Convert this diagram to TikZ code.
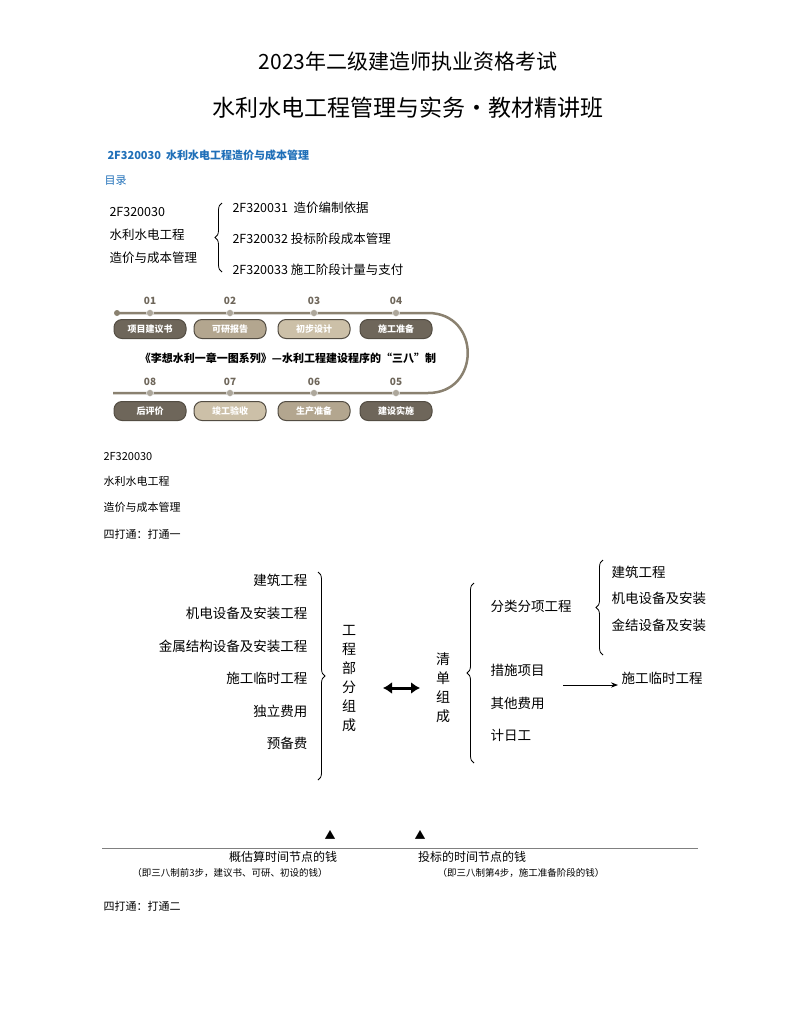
\documentclass[tikz,border=0pt]{standalone}
\usepackage{fontspec}
\setmainfont{Noto Sans CJK SC}
\usepackage{tikz}
\usetikzlibrary{decorations.pathreplacing,arrows.meta}
\definecolor{hdblue}{HTML}{1F6FB8}
\definecolor{pilldark}{HTML}{6E665A}
\definecolor{pillmid}{HTML}{B3A68F}
\definecolor{pilllight}{HTML}{CCC0A8}
\definecolor{railc}{HTML}{8A8170}
\begin{document}
\begin{tikzpicture}[x=1pt,y=-1pt,
  pill/.style={rounded corners=8pt,draw=railc!60!black,line width=1pt,minimum width=72pt,minimum height=19pt,inner sep=0pt,text=white,font=\fontsize{9}{9}\selectfont\bfseries},
  num/.style={font=\fontsize{10}{10}\selectfont\bfseries,text=pilldark},
  item/.style={font=\fontsize{13.5}{13.5}\selectfont,anchor=east},
  ritem/.style={font=\fontsize{13.5}{13.5}\selectfont,anchor=west},
  toc/.style={font=\fontsize{12.5}{12.5}\selectfont,anchor=west},
  brc/.style={decorate,decoration={brace,amplitude=7pt},thick}]
\useasboundingbox (0,0) rectangle (801,1015);
% title
\node (t1) at (408,62) {\fontsize{21}{21}\selectfont 2023年二级建造师执业资格考试};
\node (t2) at (408,108) {\fontsize{23}{23}\selectfont 水利水电工程管理与实务·教材精讲班};
\node[anchor=west,text=hdblue,font=\fontsize{11}{11}\selectfont\bfseries] (h1) at (104,155) {2F320030\ \ 水利水电工程造价与成本管理};
\node[anchor=west,text=hdblue,font=\fontsize{11}{11}\selectfont] (h2) at (101,181) {目录};
% toc
\node[toc] (c1) at (106,212) {2F320030};
\node[toc] (c2) at (106,235) {水利水电工程};
\node[toc] (c3) at (106,258) {造价与成本管理};
\draw[brc,decoration={mirror}] (222,203) -- (222,272);
\node[toc] (s1) at (229,208) {2F320031\ \ 造价编制依据};
\node[toc] (s2) at (229,239) {2F320032 投标阶段成本管理};
\node[toc] (s3) at (229,270) {2F320033 施工阶段计量与支付};
% timeline
\draw[railc,line width=2.5pt] (117,313) -- (428,313) .. controls (481,313) and (481,393) .. (428,393) -- (113,393);
\fill[railc] (117,313) circle (3pt);
\foreach \x/\n/\t/\c in {150/01/项目建议书/pilldark,230/02/可研报告/pillmid,314/03/初步设计/pilllight,396/04/施工准备/pilldark}{
  \fill[railc!70!white,draw=white] (\x,313) circle (3.5pt);
  \node[num] (n\n) at (\x,301) {\n};
  \node[pill,fill=\c] (p\n) at (\x,329) {\t};
}
\foreach \x/\n/\t/\c in {150/08/后评价/pilldark,230/07/竣工验收/pilllight,314/06/生产准备/pillmid,396/05/建设实施/pilldark}{
  \fill[railc!70!white,draw=white] (\x,393) circle (3.5pt);
  \node[num] (n\n) at (\x,382) {\n};
  \node[pill,fill=\c] (p\n) at (\x,411) {\t};
}
\node[font=\fontsize{11}{11}\selectfont\bfseries,text=black] (mid) at (288,358) {《李想水利一章一图系列》—水利工程建设程序的“三八”制};
% intro text
\node[toc,font=\fontsize{11}{11}\selectfont] (d1) at (100,457) {2F320030};
\node[toc,font=\fontsize{11}{11}\selectfont] (d2) at (100,481) {水利水电工程};
\node[toc,font=\fontsize{11}{11}\selectfont] (d3) at (100,507) {造价与成本管理};
\node[toc,font=\fontsize{11}{11}\selectfont] (d4) at (100,534) {四打通：打通一};
% left list
\foreach \y/\t [count=\i] in {580/建筑工程,613/机电设备及安装工程,646/金属结构设备及安装工程,678/施工临时工程,711/独立费用,743/预备费}
  \node[item] (l\i) at (311,\y) {\t};
\draw[brc] (318,572) -- (318,780);
\node[font=\fontsize{14}{19}\selectfont,align=center] (gc) at (349,679) {工\\程\\部\\分\\组\\成};
\draw[{Latex[length=9pt,width=12pt]}-{Latex[length=9pt,width=12pt]},line width=3pt] (383,688) -- (420,688);
\node[font=\fontsize{14}{19}\selectfont,align=center] (qd) at (443,688) {清\\单\\组\\成};
\draw[brc,decoration={mirror}] (474,583) -- (474,763);
\node[ritem] (r1) at (487,606) {分类分项工程};
\node[ritem] (r2) at (487,670) {措施项目};
\node[ritem] (r3) at (487,703) {其他费用};
\node[ritem] (r4) at (487,735) {计日工};
\draw[brc,decoration={mirror}] (603,560) -- (603,655);
\node[ritem] (f1) at (608,572) {建筑工程};
\node[ritem] (f2) at (608,598) {机电设备及安装};
\node[ritem] (f3) at (608,625) {金结设备及安装};
\node[ritem] (f4) at (618,678) {施工临时工程};
\coordinate (a0) at (563,685);
\draw[-{Stealth[length=7pt]},thick] (a0) -- (f4.west |- a0);
% time line
\draw[gray] (102,848) -- (698,848);
\node[font=\fontsize{11}{11}\selectfont] (m1) at (330,835) {▲};
\node[font=\fontsize{11}{11}\selectfont] (m2) at (420,835) {▲};
\node[font=\fontsize{12}{12}\selectfont] (k1) at (283,857) {概估算时间节点的钱};
\node[font=\fontsize{12}{12}\selectfont] (k2) at (472,857) {投标的时间节点的钱};
\node[font=\fontsize{9.5}{9.5}\selectfont] (k3) at (230,873) {（即三八制前3步，建议书、可研、初设的钱）};
\node[font=\fontsize{9.5}{9.5}\selectfont] (k4) at (521,873) {（即三八制第4步，施工准备阶段的钱）};
\node[toc,font=\fontsize{11}{11}\selectfont] (d5) at (100,906) {四打通：打通二};
\end{tikzpicture}
\end{document}
